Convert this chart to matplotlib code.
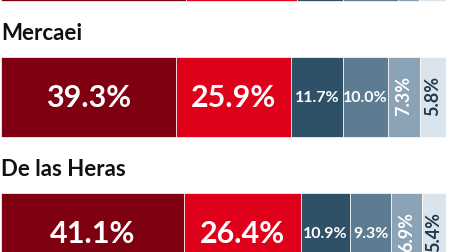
import matplotlib
matplotlib.use("Agg")
import matplotlib.pyplot as plt

plt.rcParams['font.family'] = ['Lato', 'DejaVu Sans']

categories = ["", "Mercaei", "De las Heras"]
seg1 = [41.6, 39.3, 41.1]
seg2 = [24.9, 25.9, 26.4]
seg3 = [10.4, 11.7, 10.9]
seg4 = [12.3, 10.0, 9.3]
seg5 = [4.7, 7.3, 6.9]
seg6 = [6.1, 5.8, 5.4]

series = [seg1, seg2, seg3, seg4, seg5, seg6]
colors = ["#7e0011", "#df0019", "#2f5167", "#5d7b91", "#8ba3b6", "#dae4ed"]
text_colors = ["white", "white", "white", "white", "white", "#1e3850"]
big = [True, True, False, False, False, False]

W, H = 449, 252
fig = plt.figure(figsize=(W / 100, H / 100), dpi=100)
ax = fig.add_axes([1 / W, 0, 445 / W, 1])
ax.set_xlim(0, 100)
ax.set_ylim(H, 0)
ax.axis("off")

period = 136
bar_h = 80
first_top = 57 - period

for i, name in enumerate(categories):
    top = first_top + i * period
    center = top + bar_h / 2
    left = 0.0
    show = top + bar_h > 10
    for k, vals in enumerate(series):
        v = vals[i]
        ax.barh(center, v, left=left, height=bar_h, color=colors[k],
                edgecolor="white", linewidth=0.5)
        cx = left + v / 2
        label = f"{v:.1f}%"
        if show:
            if big[k]:
                ax.text(cx, center + 1, label, ha="center", va="center",
                        color=text_colors[k], fontsize=22, fontweight="bold")
            elif v < 8:
                ax.text(cx, center - 1, label, ha="center", va="center",
                        rotation=90, color=text_colors[k], fontsize=13,
                        fontweight="bold")
            else:
                ax.text(cx, center + 1, label, ha="center", va="center",
                        color=text_colors[k], fontsize=11.5, fontweight="bold")
        left += v
    if name:
        ax.text(0, top - 17, name, ha="left", va="baseline",
                color="#111111", fontsize=16, fontweight="bold")

fig.savefig("out.png", dpi=100)
